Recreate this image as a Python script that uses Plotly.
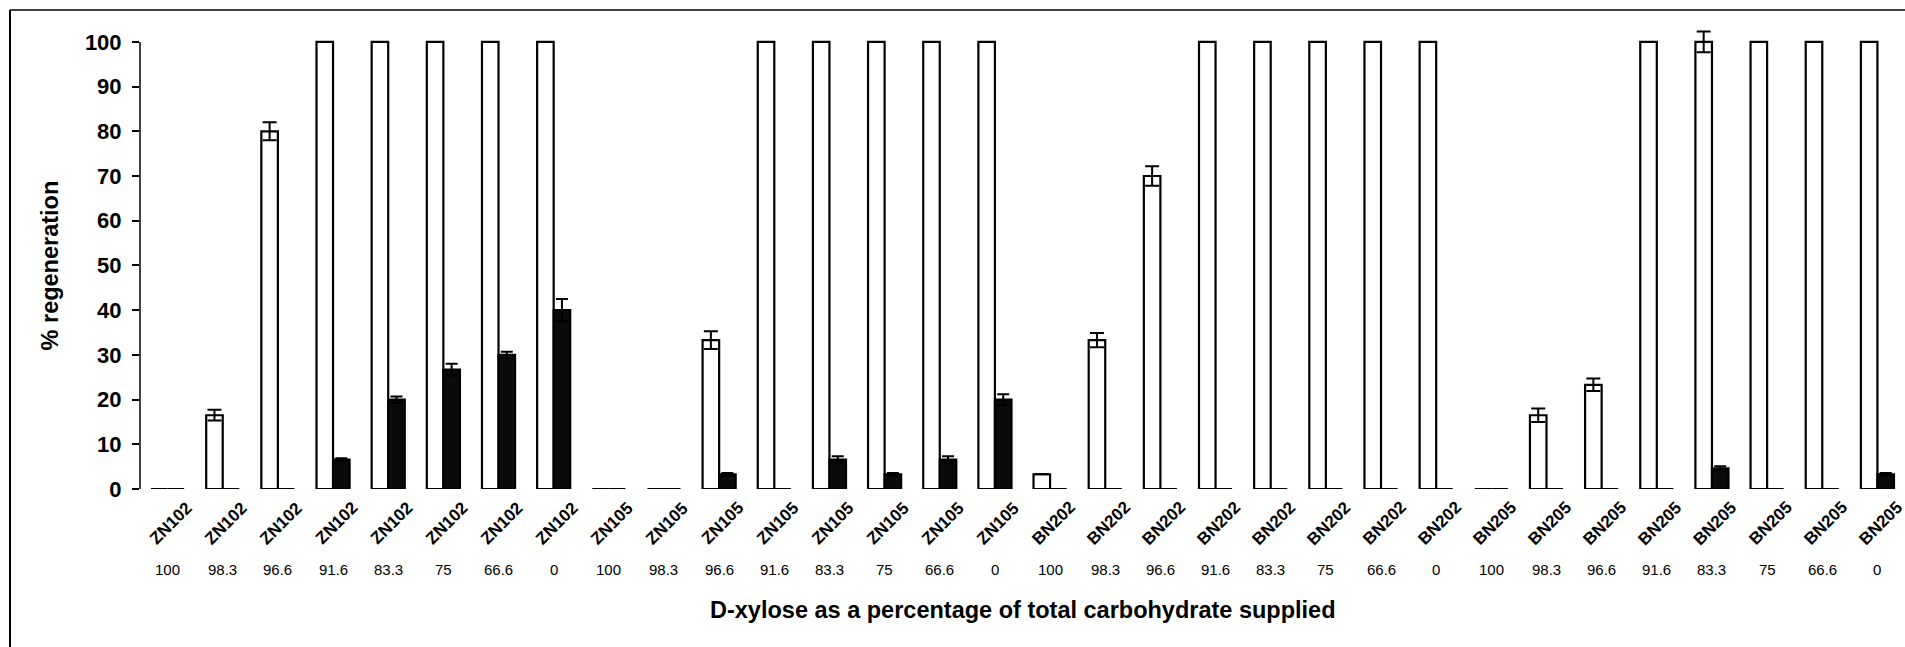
import plotly.graph_objects as go

# Strain / D-xylose treatment for each pair of bars
strains = (["ZN102"] * 8 + ["ZN105"] * 8 + ["BN202"] * 8 + ["BN205"] * 8)
xylose_pct = ["100", "98.3", "96.6", "91.6", "83.3", "75", "66.6", "0"] * 4

# Open bars
open_vals = [0, 16.5, 80, 100, 100, 100, 100, 100,
             0, 0, 33.3, 100, 100, 100, 100, 100,
             3.3, 33.3, 70, 100, 100, 100, 100, 100,
             0, 16.5, 23.3, 100, 100, 100, 100, 100]
open_err = [0, 1.2, 2.0, 0, 0, 0, 0, 0,
            0, 0, 2.0, 0, 0, 0, 0, 0,
            0, 1.6, 2.2, 0, 0, 0, 0, 0,
            0, 1.5, 1.4, 0, 2.3, 0, 0, 0]

# Filled bars
filled_vals = [0, 0, 0, 6.6, 20, 26.7, 30, 40,
               0, 0, 3.3, 0, 6.6, 3.3, 6.6, 20,
               0, 0, 0, 0, 0, 0, 0, 0,
               0, 0, 0, 0, 4.6, 0, 0, 3.3]
filled_err = [0, 0, 0, 0.3, 0.7, 1.3, 0.7, 2.5,
              0, 0, 0.3, 0, 0.7, 0.3, 0.7, 1.2,
              0, 0, 0, 0, 0, 0, 0, 0,
              0, 0, 0, 0, 0.5, 0, 0, 0.3]

FONT = "Liberation Sans, Arial, sans-serif"
W, H = 1905, 647
ML, MR, MT, MB = 140, 0, 24, 158
YMAX = 104
BAR_W = 0.3

pos = list(range(len(strains)))

fig = go.Figure()
fig.add_trace(go.Bar(
    x=pos, y=open_vals, width=BAR_W, offset=-BAR_W,
    marker=dict(color="white", line=dict(color="black", width=2.2)),
    error_y=dict(type="data", array=open_err, visible=True,
                 color="black", thickness=2, width=7),
    showlegend=False,
))
fig.add_trace(go.Bar(
    x=pos, y=filled_vals, width=BAR_W, offset=0,
    marker=dict(color="#0b0b0b", line=dict(color="black", width=2.2)),
    error_y=dict(type="data", array=filled_err, visible=True,
                 color="black", thickness=2, width=6),
    showlegend=False,
))

annotations = []
for i, (s, xp) in enumerate(zip(strains, xylose_pct)):
    annotations.append(dict(
        x=i, y=0, xref="x", yref="y", text=s, showarrow=False,
        textangle=-45, xanchor="center", yanchor="middle", yshift=-34, xshift=3,
        font=dict(family=FONT, size=17, color="black", weight="bold"),
    ))
    annotations.append(dict(
        x=i, y=0, xref="x", yref="y", text=xp, showarrow=False,
        xanchor="center", yanchor="middle", yshift=-80,
        font=dict(family=FONT, size=15, color="black"),
    ))

plot_w = W - ML - MR
plot_h = H - MT - MB

annotations.append(dict(
    x=0.5, y=0, xref="paper", yref="y", yshift=-121,
    text="D-xylose as a percentage of total carbohydrate supplied",
    showarrow=False, xanchor="center", yanchor="middle",
    font=dict(family=FONT, size=23.5, color="black", weight="bold"),
))
annotations.append(dict(
    x=(50 - ML) / plot_w, y=50, xref="paper", yref="y",
    text="% regeneration", showarrow=False, textangle=-90,
    xanchor="center", yanchor="middle",
    font=dict(family=FONT, size=23.5, color="black", weight="bold"),
))

# frame round the figure and the value axis line
fx = (10 - ML) / plot_w
fy = (H - MB - 10) / plot_h
shapes = [
    dict(type="line", xref="paper", yref="paper", x0=fx, x1=fx, y0=-0.5, y1=fy,
         line=dict(color="black", width=2)),
    dict(type="line", xref="paper", yref="paper", x0=fx, x1=1.02, y0=fy, y1=fy,
         line=dict(color="black", width=1.5)),
    dict(type="line", xref="paper", yref="y", x0=0, x1=0, y0=0, y1=100,
         line=dict(color="black", width=1.5)),
]

fig.update_layout(
    width=W, height=H,
    margin=dict(l=ML, r=MR, t=MT, b=MB, pad=0),
    plot_bgcolor="white", paper_bgcolor="white",
    barmode="group", bargap=0.4, bargroupgap=0,
    annotations=annotations, shapes=shapes,
    showlegend=False,
)
fig.update_xaxes(range=[-0.5, len(strains) - 0.5], showticklabels=False,
                 showgrid=False, zeroline=False, showline=False, ticks="")
fig.update_yaxes(range=[0, YMAX], tick0=0, dtick=10, showgrid=False,
                 zeroline=False, showline=False, ticks="outside", ticklen=7,
                 tickwidth=1.5, tickcolor="black", ticklabelstandoff=6,
                 tickfont=dict(family=FONT, size=22, color="black", weight="bold"))

fig.write_html("out.html")
